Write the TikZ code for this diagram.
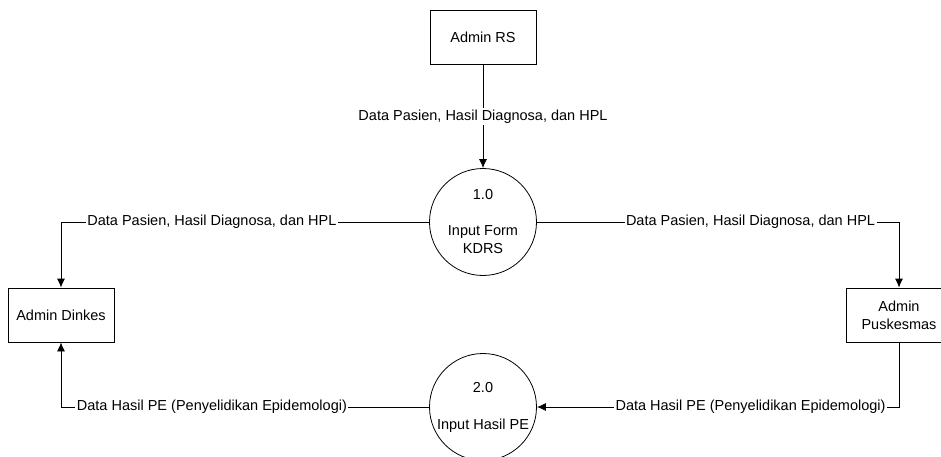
\documentclass[tikz,border=0pt]{standalone}
\usepackage{fontspec}
\setmainfont{Liberation Sans}
\usetikzlibrary{arrows.meta}

\begin{document}
\begin{tikzpicture}[x=1pt,y=-1pt,line width=0.8pt,
		font=\fontsize{14.5}{18}\selectfont,
		entity/.style={draw, minimum width=106pt, minimum height=54pt, inner sep=2pt, align=center},
		process/.style={draw, circle, minimum size=107pt, inner sep=0pt, align=center},
		flow/.style={fill=white, inner sep=1.5pt},
		datasend/.style={-{Latex[length=9pt,width=8pt]}}]
		\useasboundingbox (0,0) rectangle (941,457);
		\node [entity](rs)at (483,37.5) {Admin RS};
		\node [entity](dinkes)at (61,315) {Admin Dinkes};
		\node [entity](pusk)at (899,315) {Admin\\Puskesmas};
		\node [process](p1)at (483,222) {1.0\\[18pt]Input Form\\KDRS};
		\node [process](p2)at (483,407) {2.0\\[19pt]Input Hasil PE};
		\draw [datasend](rs)--node[flow]{Data Pasien, Hasil Diagnosa, dan HPL}(p1);
		\draw [datasend](p1.west)-|node[flow, pos=0.295]{Data Pasien, Hasil Diagnosa, dan HPL}(dinkes.north);
		\draw [datasend](p1.east)-|node[flow, pos=0.295]{Data Pasien, Hasil Diagnosa, dan HPL}(pusk.north);
		\draw [datasend](pusk.south)|-node[flow, pos=0.705]{Data Hasil PE (Penyelidikan Epidemologi)}(p2.east);
		\draw [datasend](p2.west)-|node[flow, pos=0.295]{Data Hasil PE (Penyelidikan Epidemologi)}(dinkes.south);
	\end{tikzpicture}
\end{document}
